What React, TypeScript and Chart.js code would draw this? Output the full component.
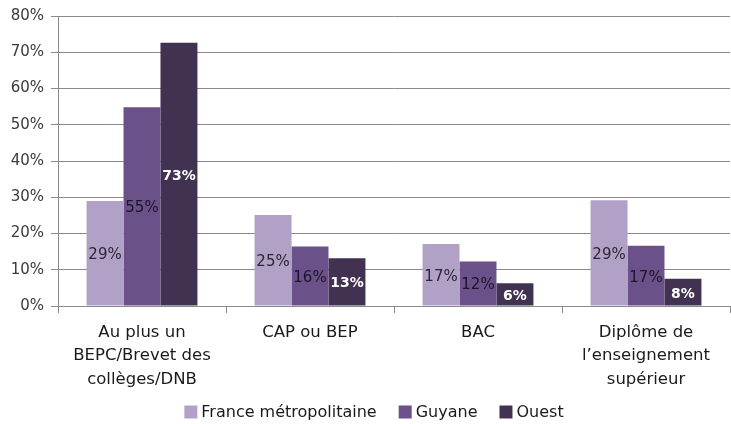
import React, { useEffect, useRef } from "react";
import { Chart, registerables } from "chart.js";

Chart.register(...registerables);

const categories: string[][] = [
  ["Au plus un", "BEPC/Brevet des", "collèges/DNB"],
  ["CAP ou BEP"],
  ["BAC"],
  ["Diplôme de", "l\u2019enseignement", "supérieur"],
];
const seriesNames = ["France métropolitaine", "Guyane", "Ouest"];
const franceValues = [29.0, 25.1, 17.1, 29.2];
const guyaneValues = [54.8, 16.4, 12.3, 16.6];
const ouestValues = [72.6, 13.2, 6.3, 7.5];
const barColors = ["#b2a1c7", "#6b5189", "#413252"];
const labelColors = ["#2a2633", "#1c1628", "#ffffff"];
const yTicks = [0, 10, 20, 30, 40, 50, 60, 70, 80];

const FONT = "'DejaVu Sans', Verdana, sans-serif";

const labelPlugin = {
  id: "barLabels",
  afterDatasetsDraw(chart: any) {
    const ctx = chart.ctx;
    ctx.save();
    ctx.textAlign = "center";
    ctx.textBaseline = "middle";
    chart.data.datasets.forEach((ds: any, i: number) => {
      const meta = chart.getDatasetMeta(i);
      meta.data.forEach((bar: any, j: number) => {
        const v = ds.data[j];
        const cy = (bar.y + bar.base) / 2;
        ctx.fillStyle = labelColors[i];
        ctx.font = i === 2 ? `bold 14px ${FONT}` : `15px ${FONT}`;
        ctx.fillText(Math.round(v) + "%", bar.x, cy + 2);
      });
    });
    ctx.restore();
  },
};

const legendPlugin = {
  id: "customLegend",
  afterDraw(chart: any) {
    const ctx = chart.ctx;
    ctx.save();
    ctx.font = `16px ${FONT}`;
    ctx.textBaseline = "middle";
    ctx.textAlign = "left";
    const box = 13;
    const gapText = 4;
    const gapItem = 22;
    const widths = seriesNames.map((n) => box + gapText + ctx.measureText(n).width);
    const total = widths.reduce((a, b) => a + b, 0) + gapItem * (seriesNames.length - 1);
    let x = 374 - total / 2;
    const cy = 412;
    seriesNames.forEach((n, i) => {
      ctx.fillStyle = barColors[i];
      ctx.fillRect(x, cy - box / 2, box, box);
      ctx.fillStyle = "#1a1a1a";
      ctx.fillText(n, x + box + gapText, cy + 1);
      x += widths[i] + gapItem;
    });
    ctx.restore();
  },
};

export default function App() {
  const ref = useRef<HTMLCanvasElement | null>(null);
  useEffect(() => {
    document.body.style.margin = "0";
    const canvas = ref.current!;
    const chart = new Chart(canvas, {
      type: "bar",
      data: {
        labels: categories,
        datasets: [franceValues, guyaneValues, ouestValues].map((d, i) => ({
          label: seriesNames[i],
          data: d,
          backgroundColor: barColors[i],
          borderWidth: 0,
          categoryPercentage: 0.66,
          barPercentage: 1,
        })),
      },
      options: {
        responsive: false,
        animation: false,
        layout: { padding: { top: 9, right: 1, left: 2, bottom: 24 } },
        scales: {
          x: {
            afterFit(scale: any) {
              scale.height = 94;
            },
            grid: {
              offset: true,
              drawOnChartArea: false,
              drawTicks: true,
              tickLength: 7,
              color: "#8a8a8a",
            },
            border: { color: "#8a8a8a" },
            ticks: {
              color: "#1a1a1a",
              font: { family: FONT, size: 16.5, lineHeight: 1.42 },
              maxRotation: 0,
              autoSkip: false,
              padding: 8,
            },
          },
          y: {
            min: 0,
            max: 80,
            afterFit(scale: any) {
              scale.width = 56;
            },
            afterBuildTicks(scale: any) {
              scale.ticks = yTicks.map((v) => ({ value: v }));
            },
            grid: { color: "#8a8a8a", tickLength: 7 },
            border: { color: "#8a8a8a" },
            ticks: {
              color: "#3a3a3a",
              font: { family: FONT, size: 15 },
              padding: 7,
              callback: (v: any) => v + "%",
            },
          },
        },
        plugins: {
          legend: { display: false },
          tooltip: { enabled: false },
        },
      },
      plugins: [labelPlugin, legendPlugin],
    });
    return () => chart.destroy();
  }, []);
  return <canvas ref={ref} width={731} height={424} style={{ display: "block" }} />;
}
